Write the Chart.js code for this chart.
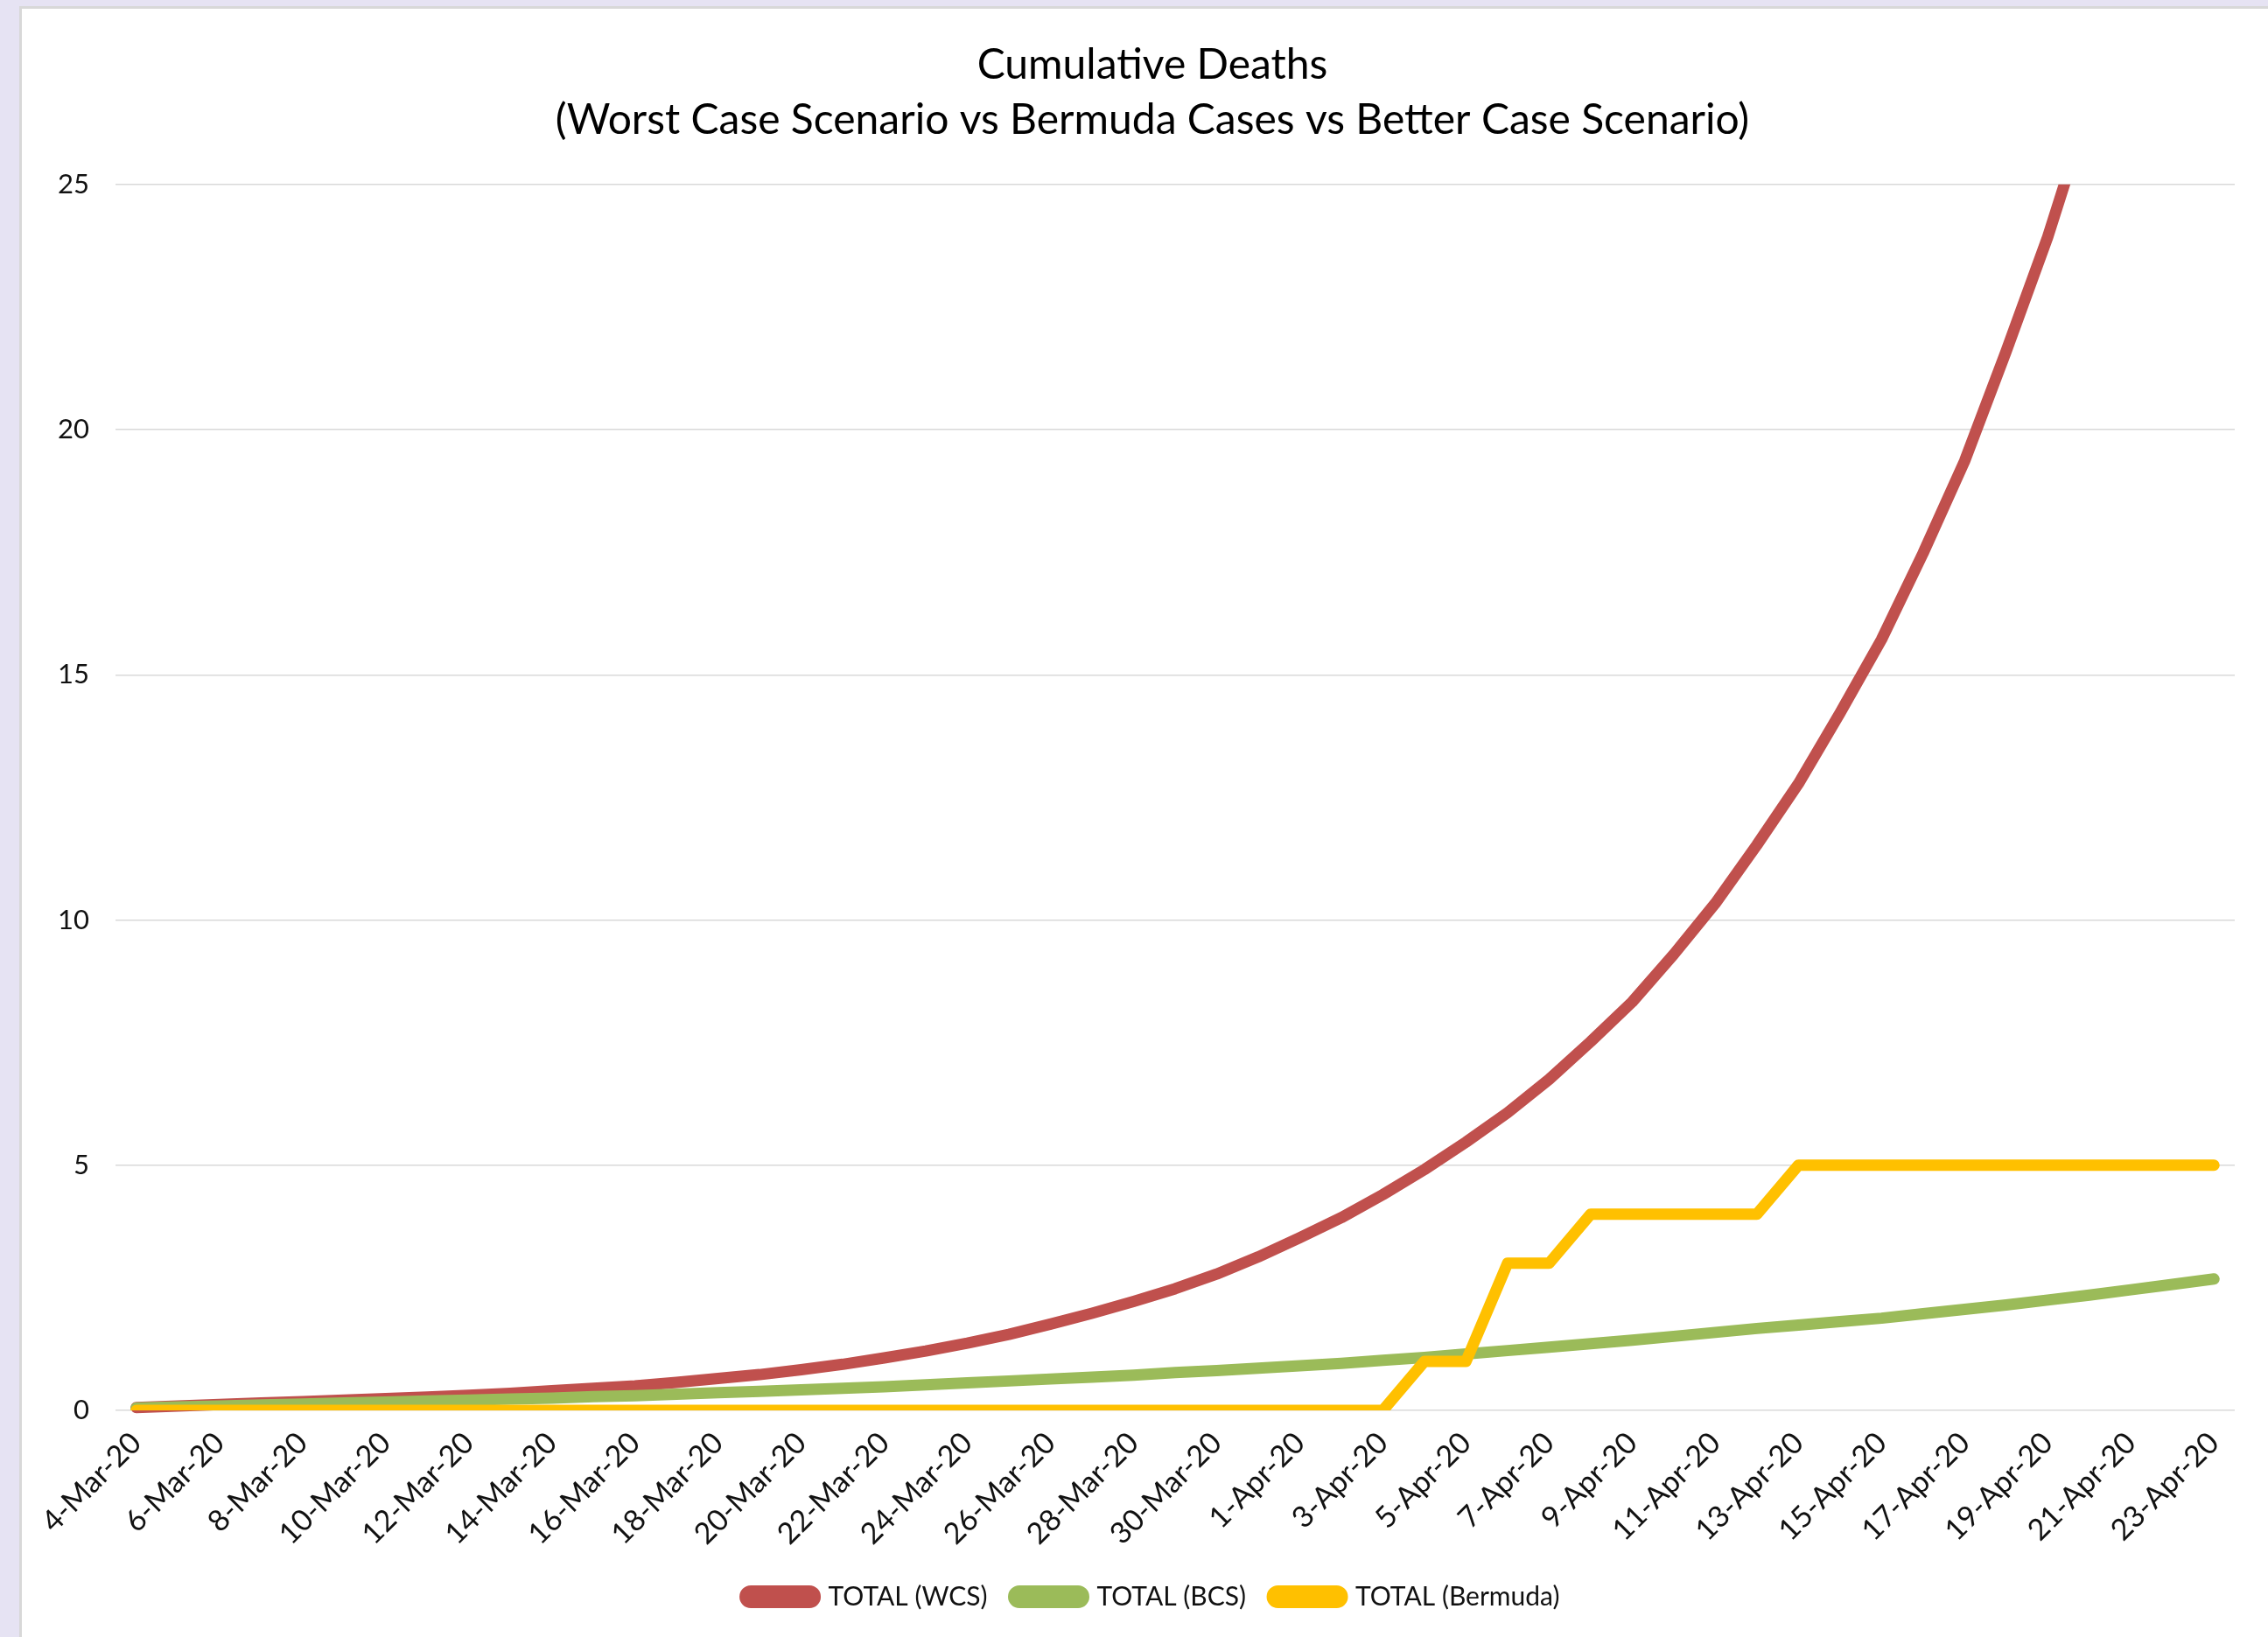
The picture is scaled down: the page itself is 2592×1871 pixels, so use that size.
<!DOCTYPE html>
<html>
<head>
<meta charset="utf-8">
<script src="https://cdn.jsdelivr.net/npm/chart.js@4.4.1/dist/chart.umd.min.js"></script>
<style>
  html, body { margin: 0; padding: 0; background: #E6E3F3; overflow: hidden; width: 2592px; height: 1871px; }
  #frame { position: absolute; left: 22px; top: 7px; width: 2590px; height: 1870px; background: #fff;
           border-left: 3px solid #D8D8D8; border-top: 3px solid #D8D8D8; }
  #wrap { position: absolute; left: 0; top: 0; width: 2584px; height: 1861px; }
</style>
</head>
<body>
<div id="frame"><div id="wrap"><canvas id="grafico"></canvas></div></div>
<script>
const categories = [
    "4-Mar-20", "5-Mar-20", "6-Mar-20", "7-Mar-20", "8-Mar-20", "9-Mar-20", "10-Mar-20",
    "11-Mar-20", "12-Mar-20", "13-Mar-20", "14-Mar-20", "15-Mar-20", "16-Mar-20", "17-Mar-20",
    "18-Mar-20", "19-Mar-20", "20-Mar-20", "21-Mar-20", "22-Mar-20", "23-Mar-20", "24-Mar-20",
    "25-Mar-20", "26-Mar-20", "27-Mar-20", "28-Mar-20", "29-Mar-20", "30-Mar-20", "31-Mar-20",
    "1-Apr-20", "2-Apr-20", "3-Apr-20", "4-Apr-20", "5-Apr-20", "6-Apr-20", "7-Apr-20",
    "8-Apr-20", "9-Apr-20", "10-Apr-20", "11-Apr-20", "12-Apr-20", "13-Apr-20", "14-Apr-20",
    "15-Apr-20", "16-Apr-20", "17-Apr-20", "18-Apr-20", "19-Apr-20", "20-Apr-20", "21-Apr-20",
    "22-Apr-20", "23-Apr-20"
];

const totalWCS = [
    0.06, 0.09, 0.12, 0.15, 0.18, 0.21, 0.24, 0.27, 0.31, 0.35,
    0.40, 0.45, 0.50, 0.57, 0.65, 0.73, 0.83, 0.94, 1.07, 1.21,
    1.37, 1.55, 1.76, 1.98, 2.22, 2.48, 2.78, 3.13, 3.52, 3.93,
    4.40, 4.91, 5.47, 6.07, 6.75, 7.52, 8.33, 9.30, 10.34, 11.53,
    12.78, 14.22, 15.72, 17.48, 19.36, 21.60, 23.93, 26.6, 29.5, 32.8,
    36.4
];

const totalBCS = [
    0.05, 0.07, 0.09, 0.11, 0.13, 0.15, 0.17, 0.19, 0.21, 0.23,
    0.25, 0.28, 0.30, 0.33, 0.36, 0.39, 0.42, 0.45, 0.48, 0.52,
    0.56, 0.60, 0.64, 0.68, 0.72, 0.77, 0.81, 0.86, 0.91, 0.96,
    1.02, 1.08, 1.15, 1.22, 1.29, 1.36, 1.43, 1.51, 1.59, 1.67,
    1.74, 1.81, 1.88, 1.97, 2.06, 2.15, 2.25, 2.35, 2.46, 2.57,
    2.68
];

const totalBermuda = [
    0, 0, 0, 0, 0, 0, 0, 0, 0, 0,
    0, 0, 0, 0, 0, 0, 0, 0, 0, 0,
    0, 0, 0, 0, 0, 0, 0, 0, 0, 0,
    0, 1, 1, 3, 3, 4, 4, 4, 4, 4,
    5, 5, 5, 5, 5, 5, 5, 5, 5, 5,
    5
];

const yTicks = [0, 5, 10, 15, 20, 25];

const fonte = "Lato";

document.addEventListener("DOMContentLoaded", function () {
    const ctx = document.getElementById("grafico").getContext("2d");

    const linha = {
        borderWidth: 13,
        pointRadius: 0,
        tension: 0,
        borderCapStyle: "round",
        borderJoinStyle: "round",
        fill: false,
    };

    new Chart(ctx, {
        type: "line",
        data: {
            labels: categories,
            datasets: [
                Object.assign({}, linha, {
                    label: "TOTAL (WCS)",
                    data: totalWCS,
                    borderColor: "#C0504D",
                    backgroundColor: "#C0504D",
                    order: 3,
                    clip: { top: 0, left: false, right: false, bottom: false },
                }),
                Object.assign({}, linha, {
                    label: "TOTAL (BCS)",
                    data: totalBCS,
                    borderColor: "#9BBB59",
                    backgroundColor: "#9BBB59",
                    order: 2,
                }),
                Object.assign({}, linha, {
                    label: "TOTAL (Bermuda)",
                    data: totalBermuda,
                    borderColor: "#FFC000",
                    backgroundColor: "#FFC000",
                    order: 1,
                }),
            ],
        },
        options: {
            responsive: true,
            maintainAspectRatio: false,
            animation: false,
            layout: { padding: { left: 0, right: 0, top: 0, bottom: 21 } },
            scales: {
                x: {
                    type: "category",
                    offset: true,
                    grid: { display: false },
                    border: { display: false },
                    ticks: {
                        autoSkip: false,
                        minRotation: 45,
                        maxRotation: 45,
                        padding: 9,
                        color: "#111",
                        font: { family: fonte, size: 34 },
                        callback: function (val, idx) {
                            return idx % 2 === 0 ? categories[idx] : "";
                        },
                    },
                    afterFit: function (scale) { scale.height = 168; },
                },
                y: {
                    min: 0,
                    max: 25,
                    position: "left",
                    grid: { color: "#D9D9D9", lineWidth: 1.5, drawTicks: false },
                    border: { display: false },
                    afterBuildTicks: function (scale) {
                        scale.ticks = yTicks.map(function (v) { return { value: v }; });
                    },
                    ticks: {
                        padding: 30,
                        color: "#111",
                        font: { family: fonte, size: 31 },
                    },
                    afterFit: function (scale) { scale.width = 107; },
                },
                direita: {
                    type: "linear",
                    position: "right",
                    grid: { display: false },
                    border: { display: false },
                    ticks: { display: false },
                    afterFit: function (scale) { scale.width = 55; },
                },
            },
            plugins: {
                legend: {
                    display: true,
                    position: "bottom",
                    labels: {
                        boxWidth: 80,
                        boxHeight: 13,
                        padding: 30,
                        useBorderRadius: true,
                        borderRadius: 6.5,
                        color: "#111",
                        font: { family: fonte, size: 30 },
                        sort: function (a, b) { return a.datasetIndex - b.datasetIndex; },
                    },
                },
                title: {
                    display: true,
                    text: ["Cumulative Deaths", "(Worst Case Scenario vs Bermuda Cases vs Better Case Scenario)"],
                    color: "#000",
                    font: { family: fonte, size: 48, weight: "normal", lineHeight: 1.31 },
                    padding: { top: 33, bottom: 42 },
                },
                tooltip: { enabled: false },
            },
        },
    });
});
</script>
</body>
</html>
